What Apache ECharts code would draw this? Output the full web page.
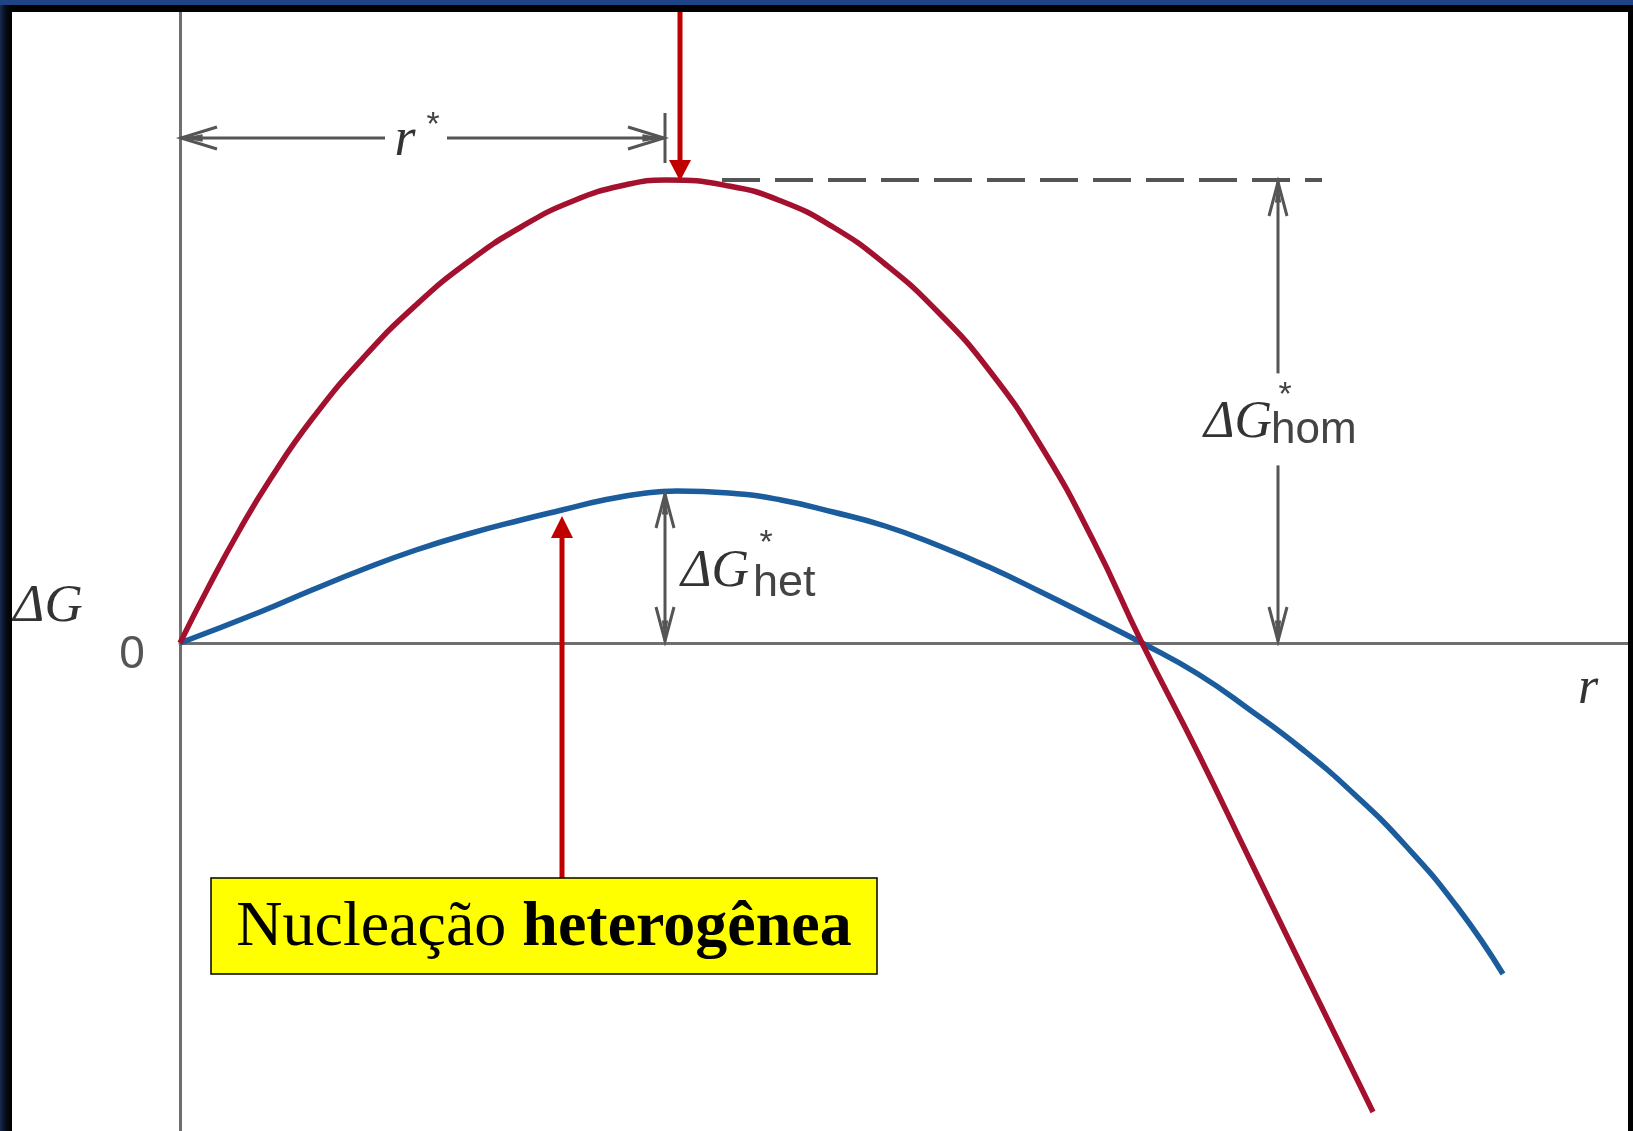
<!DOCTYPE html>
<html>
<head>
<meta charset="utf-8">
<script src="https://cdn.jsdelivr.net/npm/echarts@6/dist/echarts.min.js"></script>
<style>
  html, body { margin: 0; padding: 0; width: 1633px; height: 1131px; overflow: hidden; background: #000; }
  #frame { position: absolute; left: 0; top: 0; width: 1633px; height: 1131px;
           background: linear-gradient(to right, #16294f 0px, #060b16 6px, #000 12px); }
  #band { position: absolute; left: 0; top: 0; width: 1633px; height: 5px; background: #1f4485; }
  #chart { position: absolute; left: 12px; top: 12px; width: 1616px; height: 1119px; background: #fff; }
</style>
</head>
<body>
<div id="frame"></div>
<div id="band"></div>
<div id="chart"></div>
<script>
// Free energy of an embryo vs. its radius r (arbitrary units)
const rHom = [0, 0.28, 0.59, 0.91, 1.32, 1.84, 2.36, 2.88, 3.41, 3.93, 4.45, 4.86, 5.49, 6.01, 6.53, 7.05, 7.57, 8.09, 8.61, 9.13, 9.62, 10.18, 10.70, 11.22, 11.93];
const gHom = [0, 0.55, 1.12, 1.65, 2.24, 2.86, 3.38, 3.81, 4.16, 4.42, 4.58, 4.63, 4.57, 4.42, 4.16, 3.79, 3.32, 2.73, 1.97, 1.03, 0, -1.10, -2.17, -3.24, -4.69];

const rHet = [0, 0.80, 1.32, 1.84, 2.36, 2.88, 3.41, 3.82, 4.24, 4.66, 4.97, 5.49, 6.01, 6.53, 7.05, 7.57, 8.09, 8.61, 9.13, 9.62, 10.18, 10.70, 11.22, 11.74, 12.26, 12.78, 13.23];
const gHet = [0, 0.31, 0.53, 0.74, 0.93, 1.09, 1.23, 1.33, 1.43, 1.50, 1.52, 1.50, 1.43, 1.31, 1.17, 0.98, 0.76, 0.51, 0.25, 0, -0.31, -0.67, -1.06, -1.51, -2.03, -2.65, -3.31];

// Axis extents
const R_MAX = 14.48;
const G_MIN = -4.88;
const G_MAX = 6.31;

// Critical values
const R_STAR = 4.85;
const G_HOM_STAR = 4.63;
const G_HET_STAR = 1.51;

// Annotation anchors (data units)
const HOM_POINTER_R = 5.0;
const HET_POINTER = [3.82, 1.27];
const DASH_FROM = 5.42, DASH_TO = 11.42;
const HOM_ARROW_R = 10.98;
const R_DIM_G = 5.05;
const CALLOUT = { r0: 0.31, r1: 6.97, gTop: -2.35, gBot: -3.31 };
const CALLOUT_TEXT = ['Nucleação ', 'heterogênea'];

const chart = echarts.init(document.getElementById('chart'), null, { renderer: 'canvas' });

const axisStyle = { show: true, onZero: true, lineStyle: { color: '#6f6f6f', width: 3 } };
chart.setOption({
  animation: false,
  backgroundColor: '#ffffff',
  grid: { left: 168, top: 0, right: 0, bottom: 0 },
  xAxis: { type: 'value', min: 0, max: R_MAX, axisLine: axisStyle, axisTick: { show: false },
           axisLabel: { show: false }, splitLine: { show: false } },
  yAxis: { type: 'value', min: G_MIN, max: G_MAX, axisLine: axisStyle, axisTick: { show: false },
           axisLabel: { show: false }, splitLine: { show: false } },
  series: [
    { name: 'hom', type: 'line', data: rHom.map((r, i) => [r, gHom[i]]), smooth: 0.5,
      symbol: 'none', lineStyle: { color: '#a3112e', width: 5.5 }, z: 4 },
    { name: 'het', type: 'line', data: rHet.map((r, i) => [r, gHet[i]]), smooth: 0.5,
      symbol: 'none', lineStyle: { color: '#1b5c9d', width: 5.5 }, z: 3 }
  ]
});

const P = (r, g) => chart.convertToPixel({ gridIndex: 0 }, [r, g]);
const GRAY = '#555555';
const SERIF = '"Liberation Serif", "DejaVu Serif", serif';
const SANS = '"Liberation Sans", Arial, sans-serif';
const els = [];

function seg(a, b, color, w, dash) {
  els.push({ type: 'line', z: 10, shape: { x1: a[0], y1: a[1], x2: b[0], y2: b[1] },
             style: { stroke: color, lineWidth: w, lineDash: dash || null } });
}
// open barbed head, (dx, dy) points toward the tip
function openHead(tip, dx, dy, len, half) {
  const bx = tip[0] - dx * len, by = tip[1] - dy * len;
  const qx = -dy * half, qy = dx * half;
  els.push({ type: 'polyline', z: 11, shape: { points: [[bx + qx, by + qy], tip, [bx - qx, by - qy]] },
             style: { stroke: GRAY, lineWidth: 3, fill: null } });
  els.push({ type: 'polygon', z: 11, shape: { points: [tip,
               [tip[0] - dx * len * 0.6 + qx * 0.35, tip[1] - dy * len * 0.6 + qy * 0.35],
               [tip[0] - dx * len * 0.6 - qx * 0.35, tip[1] - dy * len * 0.6 - qy * 0.35]] },
             style: { fill: GRAY } });
}
function solidHead(tip, dx, dy, len, half, color) {
  const bx = tip[0] - dx * len, by = tip[1] - dy * len;
  const qx = -dy * half, qy = dx * half;
  els.push({ type: 'polygon', z: 12, shape: { points: [tip, [bx + qx, by + qy], [bx - qx, by - qy]] },
             style: { fill: color } });
}
function txt(x, y, s, font, size, color, align, style, weight) {
  els.push({ type: 'text', z: 13, x: x, y: y,
             style: { text: s, fontFamily: font, fontSize: size, fill: color, align: align || 'left',
                      verticalAlign: 'middle', fontStyle: style || 'normal', fontWeight: weight || 'normal' } });
}

const O = P(0, 0);

// Axis labels
txt(O[0] - 48, O[1] + 12, '0', SANS, 46, '#555', 'center');
txt(O[0] - 132, O[1] - 36, 'ΔG', SERIF, 53, '#333', 'center', 'italic');
const rl = P(14.08, 0);
txt(rl[0], rl[1] + 46, 'r', SERIF, 52, '#333', 'center', 'italic');

// r* dimension line
const d0 = P(0, R_DIM_G), d1 = P(R_STAR, R_DIM_G);
const mid = d0[0] + 225;
seg([d0[0], d0[1]], [mid - 20, d0[1]], GRAY, 3);
seg([mid + 42, d0[1]], [d1[0], d1[1]], GRAY, 3);
openHead([d0[0] + 1, d0[1]], -1, 0, 36, 11);
openHead([d1[0] - 1, d1[1]], 1, 0, 36, 11);
seg([d1[0], d1[1] - 25], [d1[0], d1[1] + 25], GRAY, 3);
txt(mid, d0[1] + 3, 'r', SERIF, 54, '#333', 'center', 'italic');
txt(mid + 28, d0[1] - 12, '*', SANS, 34, '#444', 'center');

// homogeneous barrier: pointer from top, dashed level, double arrow
const tTop = P(HOM_POINTER_R, G_MAX), tTip = P(HOM_POINTER_R, G_HOM_STAR);
tTip[1] += 1;
seg(tTop, [tTip[0], tTip[1] - 18], '#c00000', 5);
solidHead(tTip, 0, 1, 21, 11, '#c00000');

const dsA = P(DASH_FROM, G_HOM_STAR), dsB = P(DASH_TO, G_HOM_STAR);
seg(dsA, dsB, GRAY, 4, [38, 15]);

const hA = P(HOM_ARROW_R, G_HOM_STAR), hB = P(HOM_ARROW_R, 0);
const hMid = hA[1] + (hB[1] - hA[1]) * 0.53;
seg([hA[0], hA[1] + 2], [hA[0], hMid - 52], GRAY, 3);
seg([hA[0], hMid + 40], [hB[0], hB[1] - 2], GRAY, 3);
openHead([hA[0], hA[1] + 2], 0, -1, 34, 9);
openHead([hB[0], hB[1] - 2], 0, 1, 34, 9);
txt(hA[0] - 6, hMid - 2, 'ΔG', SERIF, 52, '#333', 'right', 'italic');
txt(hA[0] - 7, hMid + 5, 'hom', SANS, 44, '#444', 'left');
txt(hA[0] + 7, hMid - 30, '*', SANS, 34, '#444', 'center');

// heterogeneous barrier double arrow
const eA = P(R_STAR, G_HET_STAR), eB = P(R_STAR, 0);
seg([eA[0], eA[1] + 2], [eB[0], eB[1] - 2], GRAY, 3);
openHead([eA[0], eA[1] + 2], 0, -1, 34, 9);
openHead([eB[0], eB[1] - 2], 0, 1, 34, 9);
const eMid = eA[1] + (eB[1] - eA[1]) * 0.52;
txt(eA[0] + 16, eMid + 2, 'ΔG', SERIF, 52, '#333', 'left', 'italic');
txt(eA[0] + 88, eMid + 13, 'het', SANS, 45, '#444', 'left');
txt(eA[0] + 101, eMid - 27, '*', SANS, 34, '#444', 'center');

// callout box and pointer
const cA = P(CALLOUT.r0, CALLOUT.gTop), cB = P(CALLOUT.r1, CALLOUT.gBot);
const pTip = P(HET_POINTER[0], HET_POINTER[1]);
seg([pTip[0], cA[1]], [pTip[0], pTip[1] + 18], '#c00000', 5);
solidHead(pTip, 0, -1, 22, 11, '#c00000');
els.push({ type: 'rect', z: 14, shape: { x: cA[0], y: cA[1], width: cB[0] - cA[0], height: cB[1] - cA[1] },
           style: { fill: '#ffff00', stroke: '#000', lineWidth: 1.5 } });
els.push({ type: 'text', z: 15, x: (cA[0] + cB[0]) / 2, y: (cA[1] + cB[1]) / 2 + 2,
           style: { text: '{n|' + CALLOUT_TEXT[0] + '}{b|' + CALLOUT_TEXT[1] + '}', align: 'center', verticalAlign: 'middle',
                    rich: { n: { fontFamily: SERIF, fontSize: 64, fill: '#000' },
                            b: { fontFamily: SERIF, fontSize: 64, fontWeight: 'bold', fill: '#000' } } } });

chart.setOption({ graphic: { elements: els } });
</script>
</body>
</html>
